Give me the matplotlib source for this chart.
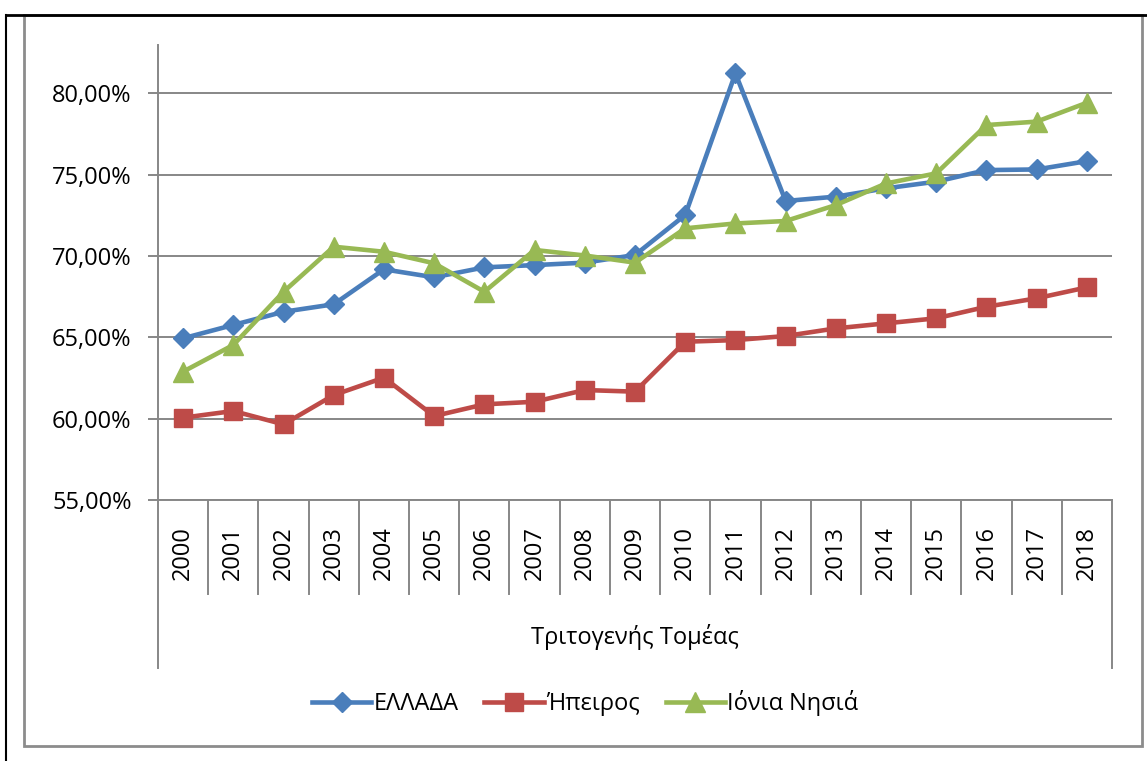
import numpy as np
import matplotlib
matplotlib.use("Agg")
import matplotlib.pyplot as plt
from matplotlib.lines import Line2D
from matplotlib.patches import Rectangle
from matplotlib.ticker import FuncFormatter

plt.rcParams['font.family'] = ['Open Sans', 'DejaVu Sans']

years = [str(y) for y in range(2000, 2019)]
ellada = [64.94, 65.76, 66.57, 67.03, 69.18, 68.69, 69.30, 69.44, 69.59, 70.06,
          72.52, 81.23, 73.38, 73.65, 74.16, 74.57, 75.28, 75.32, 75.83]
ipeiros = [60.06, 60.47, 59.65, 61.45, 62.52, 60.16, 60.88, 61.04, 61.76, 61.66,
           64.73, 64.83, 65.08, 65.55, 65.86, 66.17, 66.88, 67.40, 68.07]
ionia = [62.89, 64.53, 67.80, 70.57, 70.26, 69.55, 67.80, 70.37, 70.03, 69.59,
         71.70, 72.00, 72.15, 73.13, 74.46, 75.08, 78.05, 78.26, 79.42]
group_label = "Τριτογενής Τομέας"
series_names = ["ΕΛΛΑΔΑ", "Ήπειρος", "Ιόνια Νησιά"]

W, H = 1147, 761
fig = plt.figure(figsize=(W / 100, H / 100), dpi=100)
ax = fig.add_axes([158 / W, (H - 500) / H, (1112 - 158) / W, (500 - 45) / H])

x = np.arange(len(years))
grid_c = '#878787'
fs = 17

ax.plot(x, ellada, color='#4A7EBB', lw=3.3, marker='D', ms=10, label=series_names[0], zorder=3)
ax.plot(x, ipeiros, color='#BE4B48', lw=3.3, marker='s', ms=13, label=series_names[1], zorder=3)
ax.plot(x, ionia, color='#98B954', lw=3.3, marker='^', ms=15, label=series_names[2], zorder=3)

ax.set_xlim(-0.5, len(years) - 0.5)
ax.set_ylim(55, 82.97)
ax.set_yticks([55, 60, 65, 70, 75, 80])
ax.yaxis.set_major_formatter(FuncFormatter(lambda v, p: f"{v:.2f}%".replace('.', ',')))
ax.grid(axis='y', color=grid_c, lw=1.4, zorder=1)
ax.set_axisbelow(True)
for s in ['top', 'right']:
    ax.spines[s].set_visible(False)
for s in ['left', 'bottom']:
    ax.spines[s].set_color(grid_c)
    ax.spines[s].set_linewidth(1.4)
ax.tick_params(axis='y', length=7, width=1.4, color=grid_c, labelsize=fs, pad=12)
ax.set_xticks([])

# category labels and separators below the axis
ah = 500 - 45
for i, yr in enumerate(years):
    ax.text(i, -26 / ah, yr, transform=ax.get_xaxis_transform(), rotation=90,
            ha='center', va='top', fontsize=fs)
for b in np.arange(-0.5, len(years), 1.0):
    bottom = -168 / ah if b in (-0.5, len(years) - 0.5) else -94 / ah
    ax.plot([b, b], [0, bottom], transform=ax.get_xaxis_transform(), color=grid_c,
            lw=1.4, clip_on=False)
ax.text((len(years) - 1) / 2, -137 / ah, group_label, transform=ax.get_xaxis_transform(),
        ha='center', va='center', fontsize=fs)

fig.legend(loc='center', bbox_to_anchor=(585 / W, 1 - 703 / H), ncol=3, frameon=False,
           fontsize=fs, handlelength=2.5, columnspacing=1.1, handletextpad=0.1)

# chart frame and page line
fig.add_artist(Rectangle((24 / W, (H - 746) / H), (1142 - 24) / W, (746 - 15) / H,
                         transform=fig.transFigure, fill=False, ec='#8C8C8C', lw=2))
fig.add_artist(Line2D([6 / W, 6 / W], [0, 1 - 15 / H], transform=fig.transFigure, color='black', lw=1.5))
fig.add_artist(Line2D([6 / W, 1], [1 - 15 / H, 1 - 15 / H], transform=fig.transFigure, color='black', lw=2))

fig.savefig("out.png", dpi=100)
